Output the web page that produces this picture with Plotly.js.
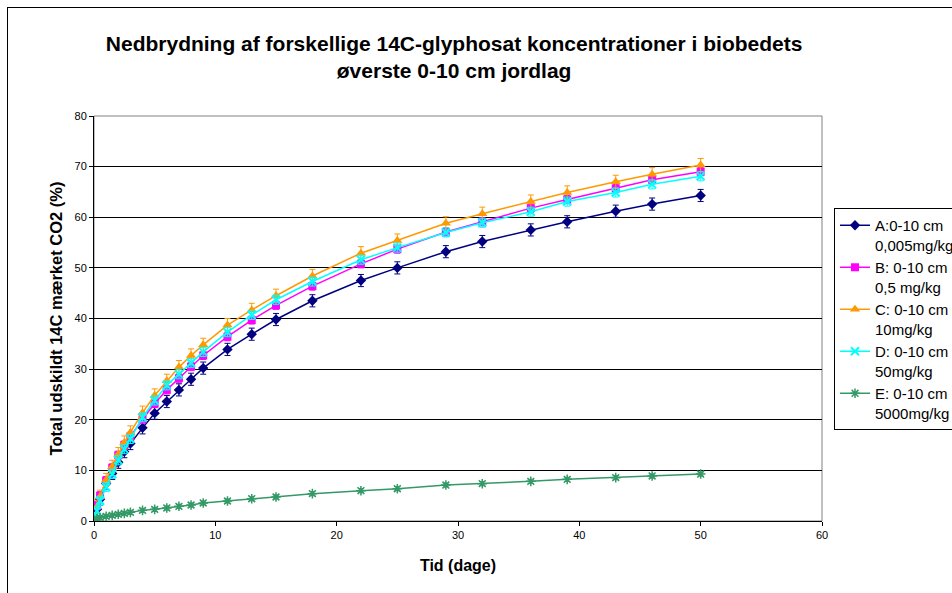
<!DOCTYPE html>
<html>
<head>
<meta charset="utf-8">
<script src="https://cdn.plot.ly/plotly-3.0.1.min.js"></script>
<style>
html,body{margin:0;padding:0;background:#fff;overflow:hidden;}
#wrap{position:relative;width:952px;height:593px;}
#chart{width:952px;height:593px;}
#frame{position:absolute;left:7px;top:7px;width:1000px;height:700px;border-left:1.5px solid #000;border-top:1.5px solid #000;pointer-events:none;}
</style>
</head>
<body>
<div id="wrap"><div id="chart"></div><div id="frame"></div></div>
<script>
var days = [0, 0.25, 0.5, 1, 1.5, 2, 2.5, 3, 4, 5, 6, 7, 8, 9, 11, 13, 15, 18, 22, 25, 29, 32, 36, 39, 43, 46, 50];
var seriesA = [0, 2.3, 4.3, 7.4, 9.4, 11.6, 13.7, 15.3, 18.4, 21.3, 23.6, 25.9, 28.0, 30.2, 33.9, 36.9, 39.8, 43.5, 47.5, 50.0, 53.2, 55.2, 57.5, 59.1, 61.2, 62.6, 64.3];
var seriesB = [0, 3.0, 5.0, 8.0, 10.5, 13.0, 15.0, 16.7, 20.1, 23.2, 25.9, 28.2, 30.5, 32.7, 36.4, 39.7, 42.6, 46.4, 50.8, 53.7, 57.1, 59.1, 61.8, 63.5, 65.7, 67.4, 69.0];
var seriesC = [0, 2.8, 4.8, 8.1, 10.7, 13.2, 15.5, 17.5, 21.4, 24.8, 27.7, 30.4, 32.7, 34.8, 38.7, 41.7, 44.5, 48.4, 52.9, 55.4, 58.8, 60.7, 63.1, 64.9, 67.0, 68.5, 70.3];
var seriesD = [0, 2.0, 4.0, 6.7, 9.3, 12.0, 14.2, 16.2, 20.5, 23.8, 26.8, 29.0, 31.2, 33.4, 37.3, 40.7, 43.7, 47.3, 51.6, 54.0, 57.0, 58.9, 61.1, 63.1, 64.9, 66.5, 68.1];
var seriesE = [0, 0.4, 0.66, 0.92, 1.12, 1.32, 1.51, 1.71, 2.1, 2.3, 2.57, 2.9, 3.16, 3.56, 3.95, 4.4, 4.74, 5.4, 5.99, 6.38, 7.11, 7.37, 7.83, 8.23, 8.56, 8.89, 9.28];
var errA = 1.2, errB = 0.8, errC = 1.3, errD = 0.9, errE = 0.4;
var names = ["A:0-10 cm<br>0,005mg/kg", "B: 0-10 cm<br>0,5 mg/kg", "C: 0-10 cm<br>10mg/kg", "D: 0-10 cm<br>50mg/kg", "E: 0-10 cm<br>5000mg/kg"];

function tr(y, name, color, symbol, size, err, lw) {
  return {
    x: days, y: y, name: name, type: 'scatter', mode: 'lines+markers',
    line: {color: color, width: 1.5},
    marker: {color: color, symbol: symbol, size: size, line: {color: color, width: lw}},
    error_y: {type: 'constant', value: err, color: color, thickness: 1, width: 3, visible: true}
  };
}
var data = [
  tr(seriesA, names[0], '#000080', 'diamond', 8, errA, 0),
  tr(seriesB, names[1], '#FF00FF', 'square', 8, errB, 0),
  tr(seriesC, names[2], '#FF9900', 'triangle-up', 9, errC, 0),
  tr(seriesD, names[3], '#00FFFF', 'x-thin-open', 8, errD, 2),
  tr(seriesE, names[4], '#339966', 'asterisk-open', 8, errE, 1.5)
];

var font = "Liberation Sans, Arial, sans-serif";
var layout = {
  width: 952, height: 593,
  margin: {l: 94, r: 130, t: 116, b: 72, autoexpand: false},
  paper_bgcolor: '#fff', plot_bgcolor: '#fff',
  font: {family: font, color: '#000', size: 11},
  showlegend: true,
  title: {
    text: '<b>Nedbrydning af forskellige 14C-glyphosat koncentrationer i biobedets<br>øverste 0-10 cm jordlag</b>',
    font: {family: font, size: 21, color: '#000'},
    x: 0.477, xanchor: 'center', y: 0.914, yanchor: 'top'
  },
  xaxis: {
    range: [0, 60], dtick: 10, tick0: 0, showgrid: false, zeroline: false,
    showline: true, linecolor: '#000', linewidth: 1,
    ticks: 'outside', ticklen: 4, tickcolor: '#000',
    tickfont: {family: font, size: 11, color: '#000'},
    title: {text: '<b>Tid (dage)</b>', font: {family: font, size: 16, color: '#000'}, standoff: 19}
  },
  yaxis: {
    range: [0, 80], dtick: 10, tick0: 0, showgrid: true, gridcolor: '#000', gridwidth: 1, zeroline: false,
    showline: true, linecolor: '#000', linewidth: 1,
    ticks: 'outside', ticklen: 4, tickcolor: '#000',
    tickfont: {family: font, size: 11, color: '#000'},
    title: {text: '<b>Total udskildt 14C mærket CO2 (%)</b>', font: {family: font, size: 16.5, color: '#000'}, standoff: 7}
  },
  legend: {
    x: 1.0165, xanchor: 'left', y: 0.7728, yanchor: 'top',
    bgcolor: '#fff', bordercolor: '#000', borderwidth: 1,
    font: {family: font, size: 15, color: '#000'},
    valign: 'top', tracegroupgap: 0
  },
  shapes: [
    {type: 'rect', xref: 'paper', yref: 'paper', x0: 0, x1: 1, y0: 0, y1: 1, line: {color: '#808080', width: 1}, layer: 'below'}
  ]
};
Plotly.newPlot('chart', data, layout, {displayModeBar: false, staticPlot: true});
</script>
</body>
</html>
